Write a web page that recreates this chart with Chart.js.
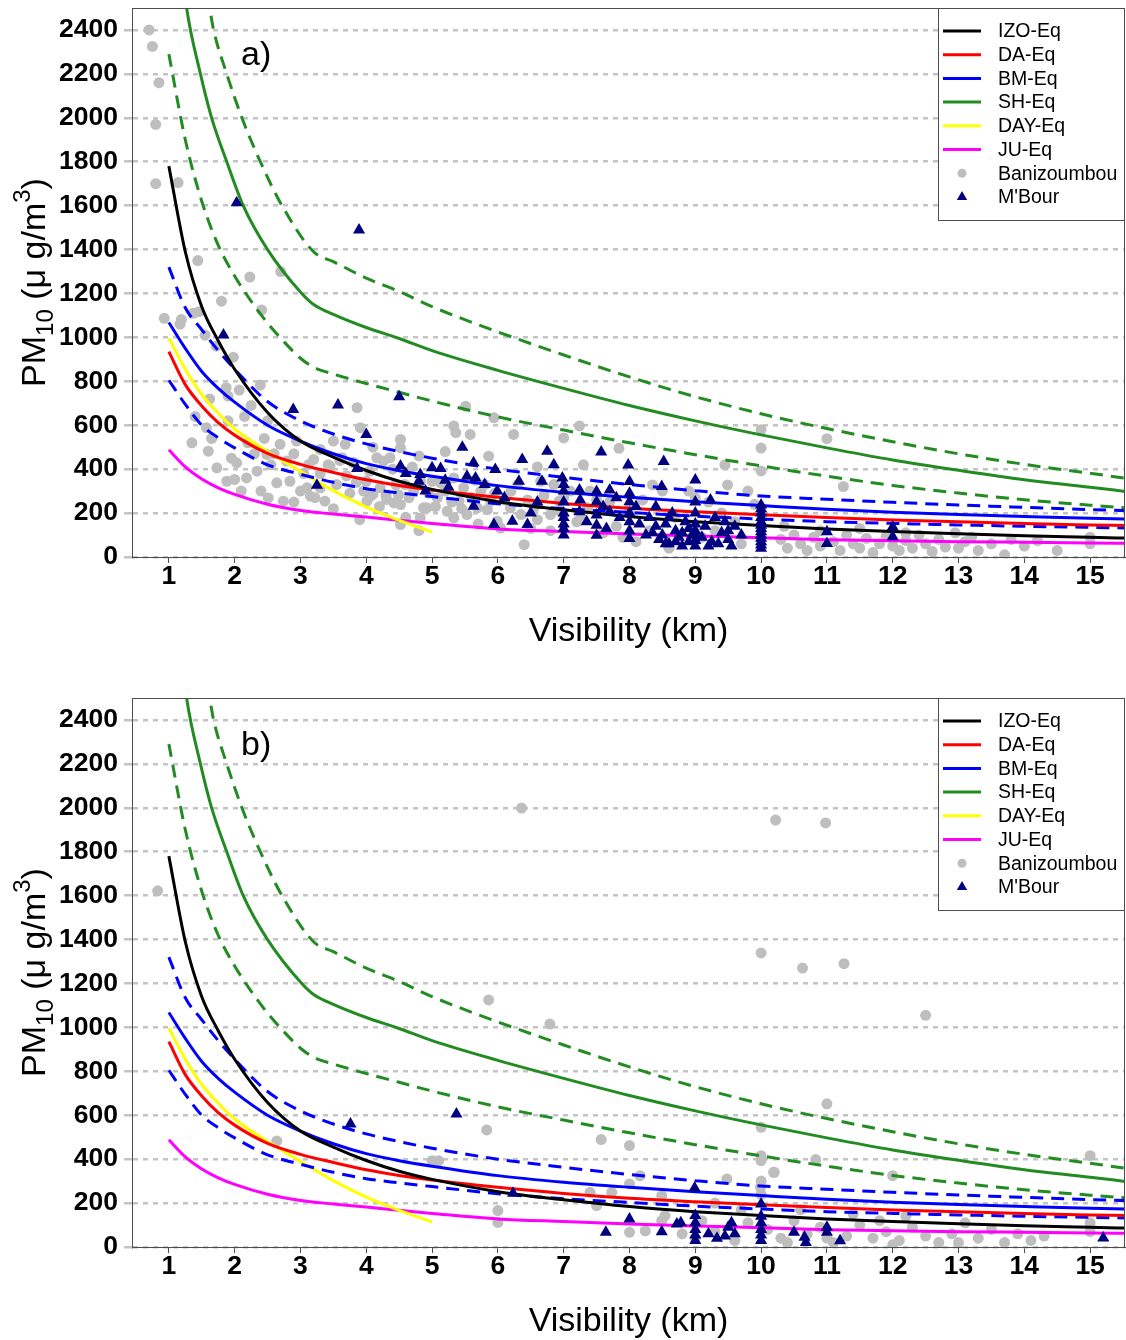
<!DOCTYPE html>
<html>
<head>
<meta charset="utf-8">
<script src="https://cdn.jsdelivr.net/npm/chart.js@4.4.0/dist/chart.umd.min.js"></script>
<style>
  html, body { margin: 0; padding: 0; background: #fff; overflow: hidden; }
  .panel { position: absolute; left: 0; width: 1126px; }
  #pa { top: 0; height: 690px; }
  #pb { top: 690px; height: 650px; }
</style>
</head>
<body>
<div class="panel" id="pa"><canvas id="chartA"></canvas></div>
<div class="panel" id="pb"><canvas id="chartB"></canvas></div>
<script>
// axis ticks
const visTicks = [1, 2, 3, 4, 5, 6, 7, 8, 9, 10, 11, 12, 13, 14, 15];
const pmTicks = [0, 200, 400, 600, 800, 1000, 1200, 1400, 1600, 1800, 2000, 2200, 2400];

// equation curves (visibility km -> PM10)
const visGrid = [1, 1.25, 1.5, 1.75, 2, 2.5, 3, 3.5, 4, 4.5, 5, 6, 7, 8, 9, 10, 11, 12, 13, 14, 15, 15.55];
const izoEq = [1780, 1390, 1140, 985, 855, 658, 528, 455, 394, 345, 308, 252, 215, 184, 161, 143, 128, 116, 106, 97, 90, 86];
const daEq  = [935, 785, 688, 612, 555, 472, 422, 385, 352, 326, 305, 272, 244, 222, 206, 192, 180, 169, 160, 152, 146, 143];
const bmEq  = [1068, 950, 845, 768, 705, 600, 528, 470, 425, 393, 368, 325, 295, 272, 252, 234, 217, 204, 193, 184, 176, 173];
const bmUp  = [1320, 1135, 1035, 940, 855, 708, 620, 560, 515, 480, 450, 400, 363, 330, 302, 278, 263, 249, 237, 226, 216, 211];
const bmLow = [805, 695, 600, 543, 497, 420, 377, 340, 311, 292, 275, 243, 220, 203, 186, 173, 161, 153, 146, 140, 135, 132];
const juEq  = [488, 410, 355, 315, 285, 240, 212, 196, 182, 167, 153, 128, 116, 105, 96, 88, 79, 74, 70, 67, 64, 62];

const dayVis = [1, 1.25, 1.5, 1.75, 2, 2.5, 3, 3.5, 4, 4.5, 5];
const dayEq  = [997, 855, 740, 655, 583, 480, 390, 302, 227, 167, 114];

const shVis = [1.2, 1.27, 1.48, 1.65, 1.88, 2.13, 2.5, 3.02, 3.2, 3.5, 4, 4.5, 5, 6, 7, 8, 9, 10, 11, 12, 13, 14, 15, 15.55];
const shEq  = [2680, 2500, 2200, 2000, 1800, 1600, 1400, 1200, 1150, 1105, 1045, 995, 940, 850, 768, 690, 620, 556, 497, 442, 395, 352, 318, 298];
const shUpVis = [1.64, 1.68, 1.88, 2.11, 2.39, 2.72, 3.2, 3.5, 4, 4.5, 5, 6, 7, 8, 9, 10, 11, 12, 13, 14, 15, 15.55];
const shUp    = [2465, 2400, 2200, 2000, 1800, 1600, 1390, 1345, 1270, 1209, 1140, 1025, 920, 820, 730, 652, 585, 525, 470, 422, 381, 358];
const shLowVis = [1, 1.25, 1.5, 1.75, 2, 2.25, 2.5, 2.75, 3, 3.2, 3.5, 4, 4.5, 5, 6, 7, 8, 9, 10, 11, 12, 13, 14, 15, 15.55];
const shLow    = [2290, 1900, 1620, 1420, 1280, 1165, 1065, 980, 905, 864, 833, 790, 750, 710, 638, 578, 520, 466, 415, 368, 326, 291, 261, 236, 224];

// observations [visibility, PM10]
const baniA = [[0.70,2400],[0.75,2325],[0.85,2160],[0.80,1970],[0.80,1700],[1.14,1705],[1.44,1350],[2.23,1275],[2.70,1300],[1.80,1165],[2.41,1125],[0.93,1087],[1.19,1082],[1.37,1110],[1.46,1117],[1.17,1060],[1.55,1010],[1.72,960],[1.98,910],[2.07,760],[1.87,771],[1.90,733],[2.39,783],[1.62,720],[2.15,640],[1.60,482],[2.03,429],[2.00,353],[1.57,589],[2.51,269],[2.64,338],[2.84,345],[3.00,300],[2.69,513],[2.55,420],[3.12,420],[3.22,270],[3.37,254],[3.42,420],[3.50,528],[3.60,440],[3.86,680],[3.91,589],[3.80,430],[4.00,345],[4.10,285],[4.30,280],[4.16,452],[4.36,452],[4.52,535],[4.52,497],[4.52,239],[4.52,148],[4.82,178],[4.92,224],[5.00,345],[5.33,596],[5.36,566],[5.58,558],[5.51,687],[5.94,634],[6.24,558],[5.86,459],[6.40,56],[6.95,208],[3.20,444],[3.45,414],[3.63,452],[3.68,513],[3.81,429],[3.96,300],[4.01,254],[4.06,277],[4.21,315],[4.26,437],[4.31,262],[4.42,246],[4.49,284],[4.59,330],[4.72,300],[4.82,345],[4.87,224],[5.08,269],[5.13,338],[5.23,208],[5.33,178],[5.33,360],[5.41,254],[5.48,315],[5.53,193],[5.69,224],[5.74,300],[5.84,216],[5.89,254],[5.99,163],[6.04,132],[6.19,224],[6.35,193],[6.55,224],[6.65,345],[6.80,193],[6.93,254],[7.26,178],[7.36,224],[2.74,254],[3.10,315],[3.15,277],[3.30,315],[2.79,437],[2.94,528],[2.49,467],[2.34,391],[2.18,360],[1.88,345],[1.73,406],[7.00,542],[7.24,597],[7.84,495],[10.0,580],[10.0,496],[10.0,392],[11.0,539],[11.25,321],[9.49,328],[8.35,328],[7.20,160],[7.60,110],[7.90,90],[8.10,70],[8.30,120],[8.70,180],[9.20,250],[9.30,120],[9.60,160],[9.70,60],[9.90,240],[9.80,300],[8.90,300],[7.50,260],[7.10,300],[6.70,280],[6.20,300],[6.50,130],[10.3,80],[10.4,40],[10.5,100],[10.6,60],[10.7,30],[10.8,90],[10.9,50],[11.1,70],[11.2,30],[11.3,100],[11.4,60],[11.5,40],[11.6,85],[11.7,20],[11.8,60],[11.9,95],[12.0,50],[12.1,30],[12.2,75],[12.3,40],[12.4,100],[12.5,60],[12.6,25],[12.7,80],[12.8,45],[12.95,110],[13.0,40],[13.1,70],[13.2,90],[13.3,30],[13.5,60],[13.7,10],[13.8,80],[14.0,50],[14.2,75],[14.5,30],[15.0,60],[15.0,90],[10.35,140],[10.9,120],[11.5,130],[12.2,110],
  [2.2,520],[2.3,470],[2.45,540],[2.6,470],[2.9,470],[3.05,380],[3.3,380],[3.55,330],[3.7,370],[3.75,290],[3.85,340],[4.05,390],[4.2,230],[4.4,400],[4.45,330],[4.65,270],[4.7,410],[4.95,290],[5.05,230],[5.2,300],[5.3,250],[5.45,220],[5.6,270],[5.65,350],[5.8,330],[5.95,290],[6.1,260],[6.3,330],[6.45,260],[6.6,170],[6.85,330],[7.0,270],[7.4,300],[7.7,250],[8.0,220],[8.2,260],[8.5,300],[9.0,270],[9.4,200],[9.1,90],[8.6,40],[7.8,140],[6.8,120],[5.7,150],[4.8,120],[4.6,180],[3.9,170],[3.5,220],[2.9,250],[2.4,300],[1.95,450],[2.1,300],[1.65,540],[1.4,640],[1.35,520],[2.5,620],[2.25,690],[1.9,620],[4.1,500],[4.8,460],[5.2,480],[3.3,490],[6.6,410],[7.3,420],[9.45,420]];
const mbourA = [[2.03,1613],[3.89,1489],[1.83,1011],[2.89,672],[3.57,692],[4.50,730],[4.00,558],[3.25,327],[3.86,403],[4.52,414],[4.82,376],[4.80,345],[5.00,406],[5.13,403],[5.25,318],[5.46,500],[5.63,429],[5.53,368],[5.66,360],[5.63,231],[5.96,398],[5.99,300],[5.94,148],[6.22,163],[6.32,345],[6.37,444],[6.45,148],[6.67,345],[6.75,482],[6.98,360],[7.0,300],[7.0,250],[7.0,200],[7.0,150],[7.0,100],[7.24,305],[7.24,206],[7.5,298],[7.5,252],[7.5,191],[7.5,145],[7.5,99],[7.7,305],[7.7,206],[7.57,478],[7.98,419],[8.0,344],[8.0,252],[8.0,200],[8.0,160],[8.0,120],[8.0,84],[8.52,435],[8.49,321],[8.3,180],[8.35,110],[8.45,80],[8.55,150],[8.6,60],[8.7,120],[8.75,90],[8.85,160],[8.9,70],[8.65,200],[8.4,230],[9.0,351],[9.23,260],[9.0,200],[9.0,150],[9.0,100],[9.0,50],[9.2,50],[9.3,180],[9.4,110],[9.5,80],[9.6,140],[10.0,237],[10.0,200],[10.0,160],[10.0,130],[10.0,100],[10.0,70],[10.0,40],[11.0,115],[11.0,61],[12.0,137],[12.0,92],
  [7.0,330],[7.0,180],[7.0,130],[7.25,260],[7.35,160],[7.6,230],[7.65,130],[7.8,270],[7.85,180],[8.0,290],[8.1,230],[8.15,150],[8.25,100],[8.4,140],[8.5,100],[8.55,60],[8.6,180],[8.7,70],[8.8,110],[8.8,50],[8.9,130],[8.95,100],[9.0,250],[9.0,120],[9.0,75],[9.1,90],[9.15,140],[9.25,70],[9.35,60],[9.45,160],[9.5,120],[9.55,50],[9.7,100],[10.0,220],[10.0,180],[10.0,145],[10.0,115],[10.0,85],[10.0,55],[6.6,250],[6.1,270],[5.8,330],[5.2,350],[4.9,300],[4.6,380],[6.5,200],[6.85,420]];
const baniB = [[0.83,1622],[6.36,1999],[10.22,1944],[10.98,1931],[10.0,1339],[10.63,1270],[11.26,1290],[12.5,1055],[5.86,1125],[6.79,1015],[5.83,533],[2.64,483],[7.57,489],[8.0,462],[10.0,545],[10.0,416],[10.0,393],[10.19,340],[5.0,393],[5.1,393],[6.0,166],[6.0,112],[7.4,249],[7.5,188],[7.73,249],[8.0,287],[8.16,325],[8.49,234],[8.49,120],[8.0,67],[8.24,74],[8.54,143],[9.48,310],[9.99,272],[11.0,652],[15.0,416],[10.83,398],[12.0,325],[10.2,340],[9.3,200],[9.7,170],[10.0,240],[10.0,300],[9.0,40],[9.3,70],[9.6,30],[9.8,110],[10.1,80],[10.3,40],[10.5,120],[10.7,60],[10.9,90],[11.1,20],[11.3,50],[11.5,100],[11.7,40],[11.9,70],[12.1,30],[12.3,90],[12.5,50],[12.7,20],[12.9,60],[13.1,110],[13.3,40],[13.5,80],[13.7,20],[13.9,60],[14.1,30],[14.3,50],[15.0,70],[15.0,110],[10.6,170],[11.4,150],[12.2,140],[11.8,120],[8.8,60],[9.1,120],[10.4,20],[11.0,40],[12.0,10],[13.0,20]];
const mbourB = [[3.76,560],[5.37,606],[6.23,245],[7.64,67],[8.0,128],[8.49,70],[8.72,105],[8.78,110],[8.99,269],[9.0,143],[9.0,110],[9.0,80],[9.0,55],[9.0,30],[9.2,60],[9.33,40],[9.5,90],[9.55,110],[9.6,60],[9.45,50],[10.0,196],[10.0,140],[10.0,110],[10.0,80],[10.0,55],[10.0,30],[10.5,67],[10.66,44],[10.68,21],[11.0,90],[11.0,67],[11.2,29],[15.2,41]];

Chart.defaults.font.family = '"Liberation Sans", Arial, sans-serif';

function zip(xs, ys) {
  return xs.map((x, i) => ({ x: x, y: ys[i] }));
}

function curve(label, xs, ys, color, dash) {
  return {
    label: label,
    data: zip(xs, ys),
    showLine: true,
    borderColor: color,
    backgroundColor: color,
    borderWidth: 3,
    borderDash: dash || [],
    pointRadius: 0,
    cubicInterpolationMode: 'monotone',
    order: 2
  };
}

function makeDatasets(bani, mbour) {
  return [
    curve('IZO-Eq', visGrid, izoEq, '#000000'),
    curve('DA-Eq', visGrid, daEq, '#ff0000'),
    curve('BM-Eq', visGrid, bmEq, '#0000ff'),
    curve('', visGrid, bmUp, '#0000ff', [13, 8]),
    curve('', visGrid, bmLow, '#0000ff', [13, 8]),
    curve('SH-Eq', shVis, shEq, '#228b22'),
    curve('', shUpVis, shUp, '#228b22', [13, 8]),
    curve('', shLowVis, shLow, '#228b22', [13, 8]),
    curve('DAY-Eq', dayVis, dayEq, '#ffff00'),
    curve('JU-Eq', visGrid, juEq, '#ff00ff'),
    {
      label: 'Banizoumbou',
      data: bani.map(p => ({ x: p[0], y: p[1] })),
      pointStyle: 'circle',
      pointRadius: 5.5,
      backgroundColor: '#bebebe',
      borderColor: '#bebebe',
      borderWidth: 0,
      order: 3
    },
    {
      label: "M'Bour",
      data: mbour.map(p => ({ x: p[0], y: p[1] })),
      pointStyle: 'triangle',
      pointRadius: 7,
      backgroundColor: '#000080',
      borderColor: '#000080',
      borderWidth: 0,
      order: 1
    }
  ];
}

// frame, legend, panel tag and axis titles
const decor = {
  id: 'decor',
  afterDraw(chart, args, opts) {
    const ctx = chart.ctx;
    const a = chart.chartArea;
    ctx.save();

    ctx.strokeStyle = '#4d4d4d';
    ctx.lineWidth = 1;
    ctx.strokeRect(a.left + 0.5, a.top + 0.5, a.right - a.left - 1, a.bottom - a.top);

    ctx.fillStyle = '#000';
    ctx.font = '34px "Liberation Sans"';
    ctx.textAlign = 'left';
    ctx.textBaseline = 'middle';
    ctx.fillText(opts.tag, 241, a.top + 48);

    // legend box
    const lx = 938;
    ctx.fillStyle = '#fff';
    ctx.fillRect(lx, a.top, a.right - lx, 212);
    ctx.strokeStyle = '#4d4d4d';
    ctx.strokeRect(lx + 0.5, a.top + 0.5, a.right - lx - 1, 212);
    const items = chart.data.datasets.filter(ds => ds.label);
    items.forEach((ds, i) => {
      const y = a.top + 23 + i * 23.7;
      if (ds.showLine) {
        ctx.strokeStyle = ds.borderColor;
        ctx.lineWidth = 3;
        ctx.setLineDash([]);
        ctx.beginPath();
        ctx.moveTo(943, y);
        ctx.lineTo(981, y);
        ctx.stroke();
      } else {
        ctx.fillStyle = ds.backgroundColor;
        ctx.strokeStyle = ds.borderColor;
        Chart.helpers.drawPoint(ctx, { pointStyle: ds.pointStyle, radius: ds.pointRadius - 1, borderWidth: 0, rotation: 0 }, 962, y);
      }
      ctx.fillStyle = '#000';
      ctx.font = '19.5px "Liberation Sans"';
      ctx.textAlign = 'left';
      ctx.textBaseline = 'middle';
      ctx.fillText(ds.label, 998, y + 1);
    });

    // x title
    ctx.fillStyle = '#000';
    ctx.font = '34px "Liberation Sans"';
    ctx.textAlign = 'center';
    ctx.textBaseline = 'alphabetic';
    ctx.fillText('Visibility (km)', (a.left + a.right) / 2, a.bottom + 84);

    // y title with sub/superscript
    const parts = [
      { t: 'PM', s: 34, dy: 0 },
      { t: '10', s: 24, dy: 8 },
      { t: ' (\u03bc g/m', s: 34, dy: 0 },
      { t: '3', s: 24, dy: -15 },
      { t: ')', s: 34, dy: 0 }
    ];
    let total = 0;
    parts.forEach(p => {
      ctx.font = p.s + 'px "Liberation Sans"';
      p.w = ctx.measureText(p.t).width;
      total += p.w;
    });
    ctx.translate(45, (a.top + a.bottom) / 2);
    ctx.rotate(-Math.PI / 2);
    ctx.textAlign = 'left';
    let cx = -total / 2;
    parts.forEach(p => {
      ctx.font = p.s + 'px "Liberation Sans"';
      ctx.fillText(p.t, cx, p.dy);
      cx += p.w;
    });

    ctx.restore();
  }
};

function buildChart(id, tag, bani, mbour, height) {
  return new Chart(document.getElementById(id), {
    type: 'scatter',
    data: { datasets: makeDatasets(bani, mbour) },
    options: {
      responsive: true,
      maintainAspectRatio: false,
      animation: false,
      events: [],
      layout: { autoPadding: false, padding: { top: 8, right: 1, bottom: 0, left: 0 } },
      plugins: {
        legend: { display: false },
        tooltip: { enabled: false },
        decor: { tag: tag }
      },
      scales: {
        x: {
          type: 'linear',
          min: 0.44,
          max: 15.53,
          afterBuildTicks: s => { s.ticks = visTicks.map(v => ({ value: v })); },
          afterFit: s => { s.height = height - 557; },
          ticks: {
            color: '#000',
            font: { size: 26.5, weight: 'bold', lineHeight: 1 },
            padding: 0,
            autoSkip: false,
            maxRotation: 0,
            callback: v => String(v)
          },
          grid: { drawOnChartArea: false, tickLength: 6, color: '#4d4d4d', lineWidth: 1 },
          border: { color: '#4d4d4d', width: 1 }
        },
        y: {
          type: 'linear',
          min: 0,
          max: 2500,
          afterBuildTicks: s => { s.ticks = pmTicks.map(v => ({ value: v })); },
          afterFit: s => { s.width = 132; },
          ticks: {
            color: '#000',
            font: { size: 26.5, weight: 'bold', lineHeight: 0.1 },
            padding: 6,
            callback: v => String(v)
          },
          grid: { color: '#c4c4c4', lineWidth: 2.5, tickLength: 8 },
          border: { color: '#4d4d4d', width: 1, dash: [5, 5] }
        }
      }
    },
    plugins: [decor]
  });
}

buildChart('chartA', 'a)', baniA, mbourA, 690);
buildChart('chartB', 'b)', baniB, mbourB, 650);
</script>
</body>
</html>
